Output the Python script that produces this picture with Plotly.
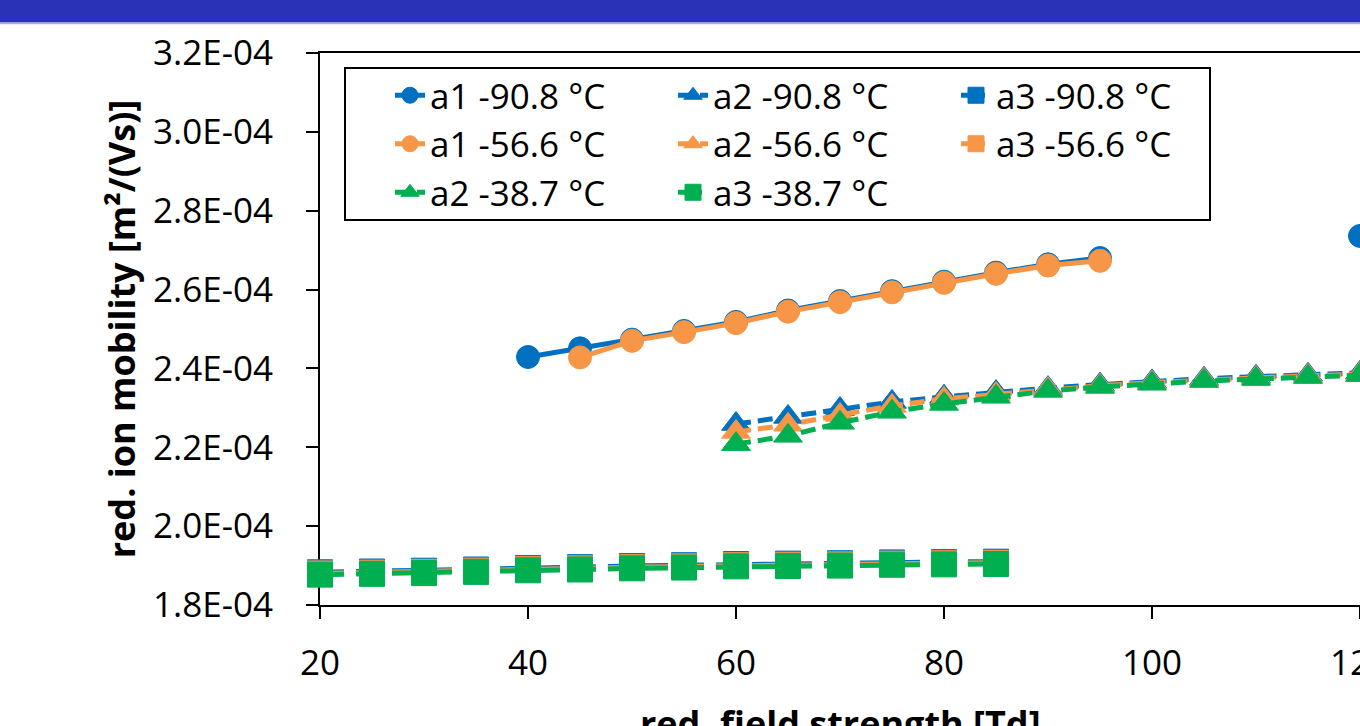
import plotly.graph_objects as go

SCALE = 1e-4  # values below are given in units of 1E-04 m²/(Vs)

# red. field strength [Td]
field_a1_908 = [40, 45, 50, 55, 60, 65, 70, 75, 80, 85, 90, 95, 100, 105, 110, 115, 120]
field_a1_566 = [45, 50, 55, 60, 65, 70, 75, 80, 85, 90, 95]
field_a2 = [60, 65, 70, 75, 80, 85, 90, 95, 100, 105, 110, 115, 120]
field_a3 = [20, 25, 30, 35, 40, 45, 50, 55, 60, 65, 70, 75, 80, 85]

# red. ion mobility [1E-04 m²/(Vs)]
mob_a1_908 = [2.429, 2.451, 2.473, 2.495, 2.518, 2.547, 2.571, 2.596, 2.620, 2.643, 2.664, 2.680,
              None, None, None, None, 2.736]
mob_a1_566 = [2.428, 2.470, 2.492, 2.515, 2.544, 2.568, 2.593, 2.617, 2.640, 2.661, 2.673]

mob_a2_908 = [2.259, 2.277, 2.297, 2.315, 2.328, 2.340, 2.350, 2.359, 2.367, 2.374, 2.379, 2.384, 2.389]
mob_a2_566 = [2.239, 2.257, 2.282, 2.305, 2.323, 2.335, 2.347, 2.356, 2.364, 2.371, 2.376, 2.381, 2.386]
mob_a2_387 = [2.208, 2.229, 2.262, 2.290, 2.310, 2.328, 2.343, 2.353, 2.361, 2.368, 2.373, 2.378, 2.383]

mob_a3_908 = [1.883, 1.885, 1.887, 1.890, 1.894, 1.896, 1.899, 1.901, 1.904, 1.905, 1.906, 1.908, 1.909, 1.910]
mob_a3_566 = [1.880, 1.882, 1.884, 1.887, 1.891, 1.893, 1.896, 1.898, 1.901, 1.902, 1.903, 1.905, 1.906, 1.907]
mob_a3_387 = [1.877, 1.879, 1.881, 1.884, 1.888, 1.890, 1.893, 1.895, 1.898, 1.899, 1.900, 1.902, 1.903, 1.904]

y_tickvals = [1.8, 2.0, 2.2, 2.4, 2.6, 2.8, 3.0, 3.2]
y_ticktext = ["1.8E-04", "2.0E-04", "2.2E-04", "2.4E-04", "2.6E-04", "2.8E-04", "3.0E-04", "3.2E-04"]
x_tickvals = [20, 40, 60, 80, 100, 120]

X_TITLE = "red. field strength [Td]"
Y_TITLE = "red. ion mobility [m²/(Vs)]"

BLUE = "#0070C0"
ORANGE = "#F79646"
GREEN = "#00B050"
FONT = "Open Sans"

def scaled(vals):
    return [None if v is None else v * SCALE for v in vals]

series = [
    ("a1 -90.8 °C", field_a1_908, mob_a1_908, BLUE, "circle", "solid"),
    ("a2 -90.8 °C", field_a2, mob_a2_908, BLUE, "triangle-up", "15px,7px"),
    ("a3 -90.8 °C", field_a3, mob_a3_908, BLUE, "square", "24px,12px"),
    ("a1 -56.6 °C", field_a1_566, mob_a1_566, ORANGE, "circle", "solid"),
    ("a2 -56.6 °C", field_a2, mob_a2_566, ORANGE, "triangle-up", "15px,7px"),
    ("a3 -56.6 °C", field_a3, mob_a3_566, ORANGE, "square", "24px,12px"),
    ("a2 -38.7 °C", field_a2, mob_a2_387, GREEN, "triangle-up", "15px,7px"),
    ("a3 -38.7 °C", field_a3, mob_a3_387, GREEN, "square", "24px,12px"),
]
marker_sizes = {"circle": 23, "triangle-up": 25, "square": 25}

fig = go.Figure()
for name, xs, ys, col, sym, dash in series:
    fig.add_trace(go.Scatter(
        x=xs, y=scaled(ys), name=name, mode="lines+markers",
        line=dict(color=col, width=5, dash=dash),
        marker=dict(symbol=sym, size=marker_sizes[sym], color=col,
                    line=dict(color=col, width=1)),
        cliponaxis=False, connectgaps=False,
    ))

W, H = 1360, 726
L, R, T, B = 320, 0, 53, 121
pw, ph = W - L - R, H - T - B

def px_x(p):
    return (p - L) / pw

def px_y(p):
    return (H - B - p) / ph

fig.update_layout(
    width=W, height=H,
    margin=dict(l=L, r=R, t=T, b=B, pad=0, autoexpand=False),
    paper_bgcolor="white", plot_bgcolor="white",
    font=dict(family=FONT, size=36, color="black"),
    showlegend=True,
    legend=dict(
        orientation="h", x=px_x(390), y=px_y(66), xanchor="left", yanchor="top",
        bgcolor="rgba(0,0,0,0)", borderwidth=0,
        font=dict(family=FONT, size=35, color="black"),
        entrywidth=238, entrywidthmode="pixels", tracegroupgap=0,
        traceorder="normal",
    ),
    xaxis=dict(
        range=[20, 120], tickvals=x_tickvals, ticks="outside", ticklen=12, tickwidth=2,
        tickcolor="black", showline=True, linewidth=2, linecolor="black", mirror=True,
        showgrid=False, zeroline=False, layer="below traces", automargin=False,
        ticklabeloverflow="allow",
        tickfont=dict(family=FONT, size=35), ticklabelstandoff=14,
    ),
    yaxis=dict(
        range=[1.8 * SCALE, 3.2 * SCALE], tickvals=[v * SCALE for v in y_tickvals], ticktext=y_ticktext,
        ticks="outside", ticklen=12, tickwidth=2, tickcolor="black",
        showline=True, linewidth=2, linecolor="black", mirror=False,
        showgrid=False, zeroline=False, layer="below traces", automargin=False,
        tickfont=dict(family=FONT, size=35), ticklabelstandoff=26,
        title=dict(text=Y_TITLE, font=dict(family=FONT, size=36, weight="bold"), standoff=6),
    ),
    annotations=[
        dict(text=X_TITLE, xref="paper", yref="paper", x=0.5, y=px_y(697),
             xanchor="center", yanchor="top", showarrow=False,
             font=dict(family=FONT, size=36, weight="bold", color="black")),
    ],
    shapes=[
        dict(type="rect", xref="paper", yref="paper", x0=px_x(0), x1=px_x(W), y0=px_y(22.5), y1=px_y(0),
             fillcolor="#2A33B6", line=dict(width=0), layer="above"),
        dict(type="line", xref="paper", yref="paper", x0=px_x(0), x1=px_x(W), y0=px_y(23.5), y1=px_y(23.5),
             line=dict(color="#A7ABE2", width=1.5), layer="above"),
        dict(type="rect", xref="paper", yref="paper", x0=px_x(345), x1=px_x(1210), y0=px_y(220), y1=px_y(68),
             fillcolor="white", line=dict(color="black", width=2), layer="below"),
    ],
)

fig.write_html("out.html")
